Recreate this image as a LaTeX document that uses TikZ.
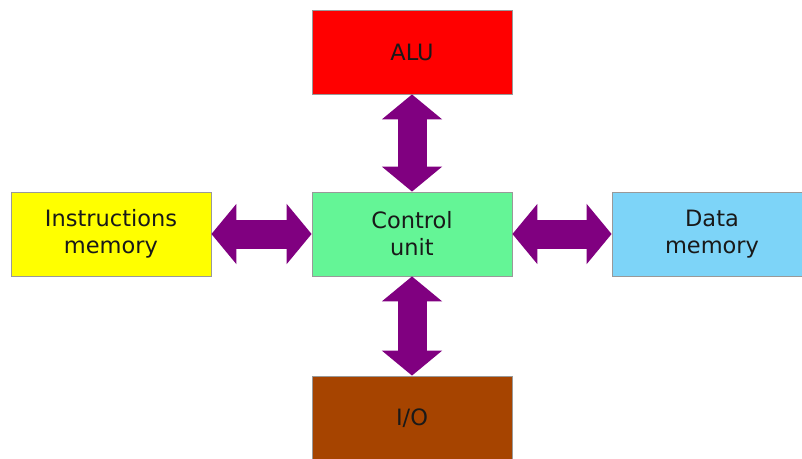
\documentclass[tikz,border=0pt]{standalone}
\usepackage{fontspec}
\setmainfont{DejaVu Sans}
\usetikzlibrary{arrows.meta}
\definecolor{alured}{HTML}{FF0000}
\definecolor{imyellow}{HTML}{FFFF00}
\definecolor{cugreen}{HTML}{64F596}
\definecolor{dmblue}{HTML}{7DD4F8}
\definecolor{iobrown}{HTML}{A64400}
\definecolor{arrowpurple}{HTML}{800080}
\definecolor{boxedge}{HTML}{999999}
\begin{document}
\begin{tikzpicture}[x=1pt,y=-1pt,
  unitbox/.style={draw=boxedge, line width=0.8pt, minimum width=200pt, minimum height=84pt,
    inner sep=0pt, align=center, text=black!90, font=\fontsize{22.5}{27}\selectfont},
  fatlink/.style={draw=arrowpurple, line width=29pt,
    {Triangle[width=59pt,length=25pt]}-{Triangle[width=59pt,length=25pt]}}]
\useasboundingbox (0,0) rectangle (802,458);
\clip (0,0) rectangle (802,458);
\fill[white] (0,0) rectangle (802,458);
\node[unitbox, fill=alured] (alu) at (412,52) {ALU};
\node[unitbox, fill=imyellow] (im) at (111,234) {Instructions\\memory};
\node[unitbox, fill=cugreen] (cu) at (412,234) {Control\\unit};
\node[unitbox, fill=dmblue] (dm) at (712,234) {Data\\memory};
\node[unitbox, fill=iobrown] (io) at (412,418) {I/O};
\draw[fatlink] (alu.south) -- (cu.north);
\draw[fatlink] (cu.south) -- (io.north);
\draw[fatlink] (im.east) -- (cu.west);
\draw[fatlink] (cu.east) -- (dm.west);
\end{tikzpicture}
\end{document}
